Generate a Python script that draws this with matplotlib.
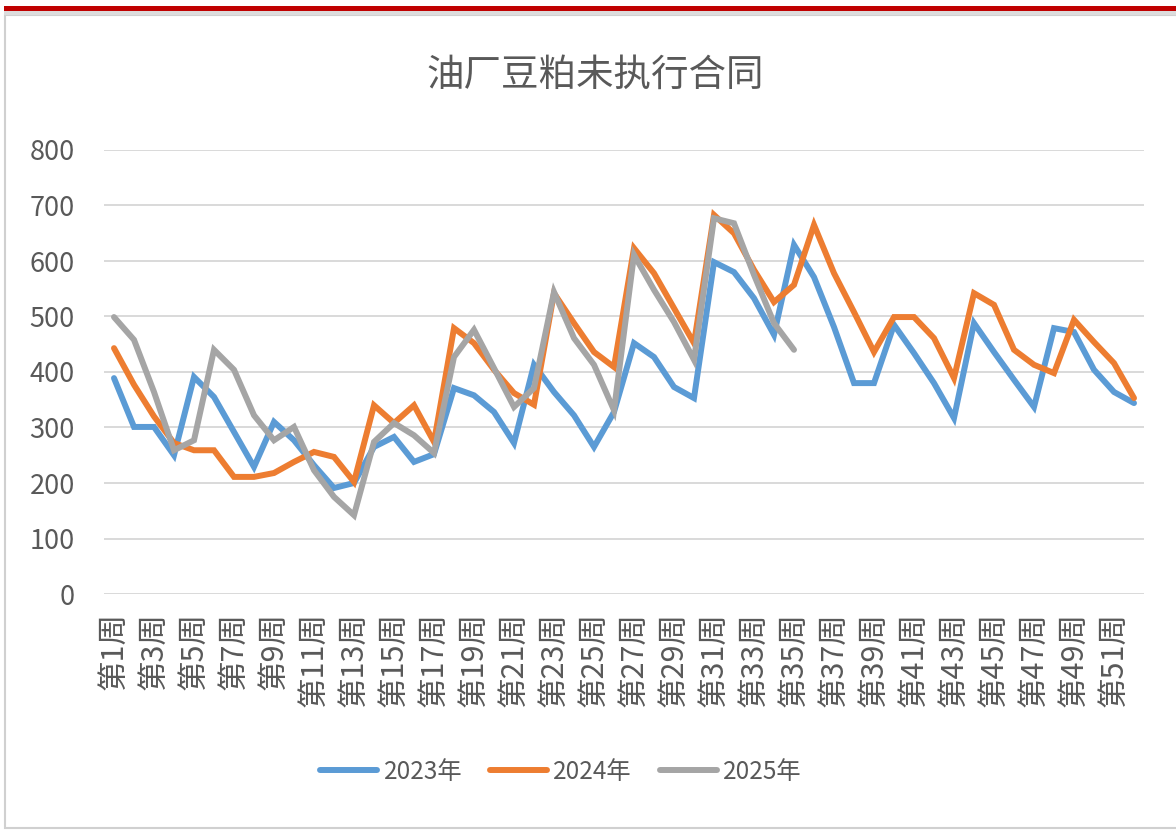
import matplotlib
matplotlib.use("Agg")
from matplotlib import pyplot as plt
from matplotlib.patches import Rectangle
import numpy as np

plt.rcParams['font.family'] = ['Noto Sans CJK SC', 'DejaVu Sans']

weeks = list(range(1, 53))
week_labels = ['第%d周' % w for w in weeks]

y2023 = [389, 301, 301, 250, 391, 355, 292, 229, 310, 277, 232, 191, 200, 265, 283, 238, 252,
         371, 358, 328, 272, 413, 364, 322, 265, 328, 452, 427, 373, 353, 598, 580, 533, 467,
         629, 571, 481, 380, 380, 485, 434, 380, 317, 488, 436, 386, 337, 479, 472, 404, 364, 344]
y2024 = [443, 377, 320, 272, 259, 259, 211, 211, 218, 238, 256, 247, 202, 340, 308, 340, 274,
         479, 452, 404, 362, 341, 542, 488, 436, 409, 623, 578, 515, 452, 683, 650, 584, 526,
         557, 665, 578, 508, 436, 499, 499, 461, 389, 542, 521, 440, 413, 398, 494, 454, 416, 353]
y2025 = [499, 458, 364, 259, 277, 440, 404, 322, 277, 301, 223, 175, 142, 274, 308, 286, 254,
         427, 476, 407, 337, 371, 544, 461, 413, 331, 611, 548, 490, 422, 677, 668, 575, 488,
         440]

series = [('2023年', y2023, '#5B9BD5'), ('2024年', y2024, '#ED7D31'), ('2025年', y2025, '#A5A5A5')]

W, H = 1176, 830
fig = plt.figure(figsize=(W / 100, H / 100), dpi=100)

# frame, red band on top
fig.patches.append(Rectangle((5 / W, 2 / H), (W + 5) / W, (H - 17) / H, transform=fig.transFigure,
                             facecolor='white', edgecolor='#D0D0D0', linewidth=1.5, zorder=-3))
fig.patches.append(Rectangle((4 / W, 1 - 15 / H), (W - 4) / W, 4 / H, transform=fig.transFigure,
                             facecolor='#DCDCDC', edgecolor='none', zorder=-2))
fig.patches.append(Rectangle((4 / W, 1 - 11 / H), (W - 4) / W, 5 / H, transform=fig.transFigure,
                             facecolor='#C00000', edgecolor='none', zorder=-1))

ax = fig.add_axes([104 / W, 1 - 594 / H, 1040 / W, 444 / H])
ax.set_facecolor('none')

for name, vals, col in series:
    ax.plot(weeks[:len(vals)], vals, color=col, linewidth=4.3, label=name,
            solid_capstyle='round', solid_joinstyle='miter')

ax.set_xlim(0.5, 52.5)
ax.set_ylim(0, 800)
ax.set_yticks(range(0, 801, 100))
ax.grid(axis='y', color='#D9D9D9', linewidth=1.4)
ax.set_axisbelow(True)
for s in ax.spines.values():
    s.set_visible(False)

ax.set_xticks(weeks[::2])
ax.set_xticklabels(week_labels[::2], rotation=90, fontsize=22, color='#595959')
ax.tick_params(axis='x', length=0, pad=13)
ax.tick_params(axis='y', length=0, pad=21, labelsize=19.5, labelcolor='#595959')

fig.text(595 / W, 1 - 75 / H, '油厂豆粕未执行合同', ha='center', va='center',
         fontsize=27, color='#595959')

fig.legend(loc='center', bbox_to_anchor=(561 / W, 1 - 772 / H), ncol=3, frameon=False,
           fontsize=17.5, handlelength=2.35, handletextpad=0.25, columnspacing=1.15,
           labelcolor='#595959')

plt.savefig('out.png', dpi=100)
